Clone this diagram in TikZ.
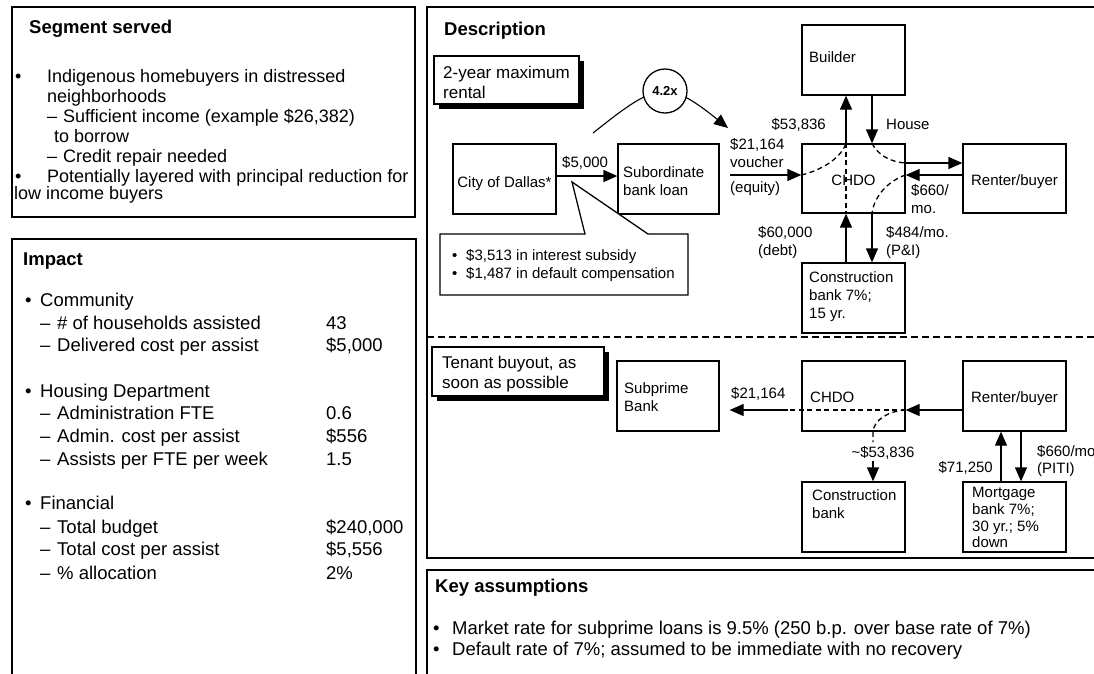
\documentclass[tikz,border=0pt]{standalone}
\usepackage{fontspec}
\setmainfont{Liberation Sans}
\usetikzlibrary{arrows.meta}
\begin{document}
\begin{tikzpicture}[x=1pt,y=-1pt,
  panel/.style={draw, line width=1.8pt},
  box/.style={draw, line width=1.3pt, inner sep=0pt, fill=white},
  arr/.style={line width=1.3pt, -{Triangle[length=14pt,width=12pt]}},
  dsh/.style={line width=1.3pt, dash pattern=on 5pt off 3.5pt},
  divider/.style={line width=1.3pt, dash pattern=on 7pt off 4pt},
  hd/.style={inner sep=0pt, anchor=base west, font=\bfseries\fontsize{18.5}{22}\selectfont},
  t18/.style={inner sep=0pt, anchor=base west, font=\fontsize{18}{20}\selectfont},
  tm/.style={inner sep=0pt, anchor=base west, font=\fontsize{18.5}{22}\selectfont},
  t17/.style={inner sep=0pt, anchor=base west, font=\fontsize{17}{20}\selectfont},
  t15/.style={inner sep=0pt, anchor=base west, font=\fontsize{15}{18}\selectfont},
  c15/.style={inner sep=0pt, anchor=base, font=\fontsize{15}{18}\selectfont},
  e15/.style={inner sep=0pt, anchor=base east, font=\fontsize{15}{18}\selectfont}
]
\useasboundingbox (0,0) rectangle (1094,673);
\fill[white] (0,0) rectangle (1094,673);

% ---------- Segment served ----------
\draw[panel] (12,7) rectangle (415,217);
\node[hd] (segT) at (29,33) {Segment served};
\node[t18] (segB1) at (15,82.5) {\textbullet};
\node[t18] (seg1) at (47,82.5) {Indigenous homebuyers in distressed};
\node[t18] (seg2) at (47,102.5) {neighborhoods};
\node[t18] (segD1) at (47,122.5) {\textendash};
\node[t18] (seg3) at (63,122.5) {Sufficient income (example \$26,382)};
\node[t18] (seg4) at (54,142.5) {to borrow};
\node[t18] (segD2) at (47,162.5) {\textendash};
\node[t18] (seg5) at (63,162.5) {Credit repair needed};
\node[t18] (segB2) at (15,182.5) {\textbullet};
\node[t18] (seg6) at (47,182.5) {Potentially layered with principal reduction for};
\node[t18] (seg7) at (14,199.5) {low income buyers};

% ---------- Impact ----------
\draw[panel] (12,239) rectangle (416,700);
\node[hd] (impT) at (23,265.5) {Impact};
\node[tm] (impB1) at (25,306.5) {\textbullet};
\node[tm] (imp1) at (40,306.5) {Community};
\node[tm] (impD1) at (40,329.5) {\textendash};
\node[tm] (imp2) at (57,329.5) {\# of households assisted};
\node[tm] (impV2) at (326,329.5) {43};
\node[tm] (impD2) at (40,351.5) {\textendash};
\node[tm] (imp3) at (57,351.5) {Delivered cost per assist};
\node[tm] (impV3) at (326,351.5) {\$5,000};
\node[tm] (impB2) at (25,397.5) {\textbullet};
\node[tm] (imp4) at (40,397.5) {Housing Department};
\node[tm] (impD4) at (40,419.5) {\textendash};
\node[tm] (imp5) at (57,419.5) {Administration FTE};
\node[tm] (impV5) at (326,419.5) {0.6};
\node[tm] (impD5) at (40,442.5) {\textendash};
\node[tm] (imp6) at (57,442.5) {Admin. cost per assist};
\node[tm] (impV6) at (326,442.5) {\$556};
\node[tm] (impD6) at (40,465.5) {\textendash};
\node[tm] (imp7) at (57,465.5) {Assists per FTE per week};
\node[tm] (impV7) at (326,465.5) {1.5};
\node[tm] (impB3) at (25,509.5) {\textbullet};
\node[tm] (imp8) at (40,509.5) {Financial};
\node[tm] (impD8) at (40,533.5) {\textendash};
\node[tm] (imp9) at (57,533.5) {Total budget};
\node[tm] (impV9) at (326,533.5) {\$240,000};
\node[tm] (impD9) at (40,555.5) {\textendash};
\node[tm] (imp10) at (57,555.5) {Total cost per assist};
\node[tm] (impV10) at (326,555.5) {\$5,556};
\node[tm] (impD10) at (40,579.5) {\textendash};
\node[tm] (imp11) at (57,579.5) {\% allocation};
\node[tm] (impV11) at (326,579.5) {2\%};

% ---------- Description ----------
\draw[panel] (427,7) rectangle (1110,558);
\draw[divider] (427,337) -- (1110,337);
\node[hd] (descT) at (444,35) {Description};

% label box with shadow
\fill[black] (439,61) rectangle (584,109);
\node[box, minimum width=145pt, minimum height=48pt] (lab1) at (506.5,80) {};
\node[t17] (lab1a) at (443,78) {2-year maximum};
\node[t17] (lab1b) at (443,98) {rental};

% multiplier curve
\coordinate (cs) at (593,133);
\coordinate (ce) at (728,128);
\draw[arr, line width=1.1pt] (cs) .. controls (656,83) and (666,78) .. (ce);
\node[draw, circle, line width=1.3pt, fill=white, minimum size=44pt, inner sep=0pt,
      font=\bfseries\fontsize{13}{15}\selectfont] (mult) at (665,91) {4.2x};

% boxes top
\node[box, minimum width=103pt, minimum height=70pt] (city) at (504.5,179) {};
\node[box, minimum width=101pt, minimum height=70pt] (sub) at (668.5,179) {};
\node[box, minimum width=103pt, minimum height=70pt] (builder) at (853.5,60) {};
\node[box, minimum width=103pt, minimum height=69pt] (chdo) at (853.5,178.5) {};
\node[box, minimum width=103pt, minimum height=69pt] (renter) at (1014.5,178.5) {};
\node[box, minimum width=103pt, minimum height=70pt] (cbank) at (853.5,298) {};

\node[c15] (cityT) at (504.5,187) {City of Dallas*};
\node[t15] (subT1) at (623,177.4) {Subordinate};
\node[t15] (subT2) at (623,195.4) {bank loan};
\node[t15] (builderT) at (809,62.5) {Builder};
\node[c15] (chdoT) at (853.5,185.4) {CHDO};
\node[c15] (renterT) at (1014.5,185.4) {Renter/buyer};
\node[t15] (cbT1) at (809,282.4) {Construction};
\node[t15] (cbT2) at (809,300.4) {bank 7\%;};
\node[t15] (cbT3) at (809,318.4) {15 yr.};

% callout
\draw[line width=1.3pt, fill=white] (440,234) -- (585,234) -- (572,182) -- (648,234)
  -- (688,234) -- (688,295) -- (440,295) -- cycle;
\node[t15] (coB1) at (452,260.4) {\textbullet};
\node[t15] (co1) at (466,260.4) {\$3,513 in interest subsidy};
\node[t15] (coB2) at (452,278.4) {\textbullet};
\node[t15] (co2) at (466,278.4) {\$1,487 in default compensation};

% arrows top
\draw[arr] (city.east |- 0,176) -- (sub.west |- 0,176);
\node[t15] (l5000) at (562,167.4) {\$5,000};
\coordinate (vstart) at (730,175);
\draw[arr] (vstart) -- (chdo.west |- vstart);
\node[t15] (lv1) at (730,149.4) {\$21,164};
\node[t15] (lv2) at (730,167.4) {voucher};
\node[t15] (lv3) at (730,192.4) {(equity)};
\draw[arr] (chdo.north -| 846,0) -- (builder.south -| 846,0);
\node[e15] (l53) at (826,129.4) {\$53,836};
\draw[arr] (builder.south -| 872,0) -- (chdo.north -| 872,0);
\node[t15] (lhouse) at (886,129.4) {House};
\draw[arr] (chdo.east |- 0,163) -- (renter.west |- 0,163);
\draw[arr] (renter.west |- 0,175) -- (chdo.east |- 0,175);
\node[t15] (l660a) at (911,195.4) {\$660/};
\node[t15] (l660b) at (911,213.4) {mo.};
\draw[arr] (cbank.north -| 846,0) -- (chdo.south -| 846,0);
\node[t15] (l60a) at (758,237.4) {\$60,000};
\node[t15] (l60b) at (758,255.4) {(debt)};
\draw[arr] (chdo.south -| 872,0) -- (cbank.north -| 872,0);
\node[t15] (l484a) at (886,237.4) {\$484/mo.};
\node[t15] (l484b) at (886,255.4) {(P\&I)};

% dashed flows inside CHDO
\draw[dsh] (chdo.west |- 0,175) .. controls (822,170) and (841,158) .. (chdo.north -| 846,0);
\draw[dsh] (chdo.north -| 846,0) -- (chdo.south -| 846,0);
\draw[dsh] (chdo.north -| 872,0) .. controls (878,155) and (890,162) .. (chdo.east |- 0,163);
\draw[dsh] (chdo.east |- 0,175) .. controls (890,180) and (874,195) .. (chdo.south -| 872,0);

% ---------- bottom scenario ----------
\fill[black] (437,352) rectangle (609,401);
\node[box, minimum width=172pt, minimum height=49pt] (lab2) at (518,371.5) {};
\node[t17] (lab2a) at (442,368) {Tenant buyout, as};
\node[t17] (lab2b) at (442,388) {soon as possible};

\node[box, minimum width=102pt, minimum height=70pt] (subpr) at (668,396) {};
\node[box, minimum width=103pt, minimum height=70pt] (chdo2) at (853.5,396) {};
\node[box, minimum width=103pt, minimum height=70pt] (renter2) at (1014.5,396) {};
\node[box, minimum width=103pt, minimum height=70pt] (cbank2) at (853.5,517) {};
\node[box, minimum width=103pt, minimum height=70pt] (mort) at (1014.5,517) {};

\node[t15] (subprT1) at (624,393.4) {Subprime};
\node[t15] (subprT2) at (624,411.4) {Bank};
\node[t15] (chdo2T) at (810,402.4) {CHDO};
\node[c15] (renter2T) at (1014.5,402.4) {Renter/buyer};
\node[t15] (cb2T1) at (812,500.4) {Construction};
\node[t15] (cb2T2) at (812,518.4) {bank};
\node[t15] (mortT1) at (972,497.4) {Mortgage};
\node[t15] (mortT2) at (972,514.4) {bank 7\%;};
\node[t15] (mortT3) at (972,531.4) {30 yr.; 5\%};
\node[t15] (mortT4) at (972,547.4) {down};

\coordinate (dend) at (788,410);
\coordinate (dcut) at (873,442);
\coordinate (dres) at (873,461);
\draw[arr] (renter2.west |- 0,410) -- (chdo2.east |- 0,410);
\draw[dsh] (chdo2.east |- 0,410) -- (dend);
\draw[arr, shorten >=10pt] (dend) -- (subpr.east |- dend);
\node[t15] (l21b) at (731,398.4) {\$21,164};
\draw[dsh] (chdo2.east |- 0,410) .. controls (888,411) and (874,420) .. (chdo2.south -| 873,0) -- (dcut);
\node[c15] (l53b) at (883,457.4) {\textasciitilde\$53,836};
\draw[arr] (dres) -- (cbank2.north -| dres);
\draw[arr] (mort.north -| 1001,0) -- (renter2.south -| 1001,0);
\node[e15] (l71) at (993,472.4) {\$71,250};
\draw[arr] (renter2.south -| 1021,0) -- (mort.north -| 1021,0);
\node[t15] (l660c) at (1037,456.4) {\$660/mo.};
\node[t15] (l660d) at (1037,473.4) {(PITI)};

% ---------- Key assumptions ----------
\draw[panel] (427,570) rectangle (1110,700);
\node[hd] (keyT) at (435,592) {Key assumptions};
\node[tm] (keyB1) at (433,634.5) {\textbullet};
\node[tm] (key1) at (452,634.5) {Market rate for subprime loans is 9.5\% (250 b.p. over base rate of 7\%)};
\node[tm] (keyB2) at (433,655.5) {\textbullet};
\node[tm] (key2) at (452,655.5) {Default rate of 7\%; assumed to be immediate with no recovery};
\end{tikzpicture}
\end{document}
